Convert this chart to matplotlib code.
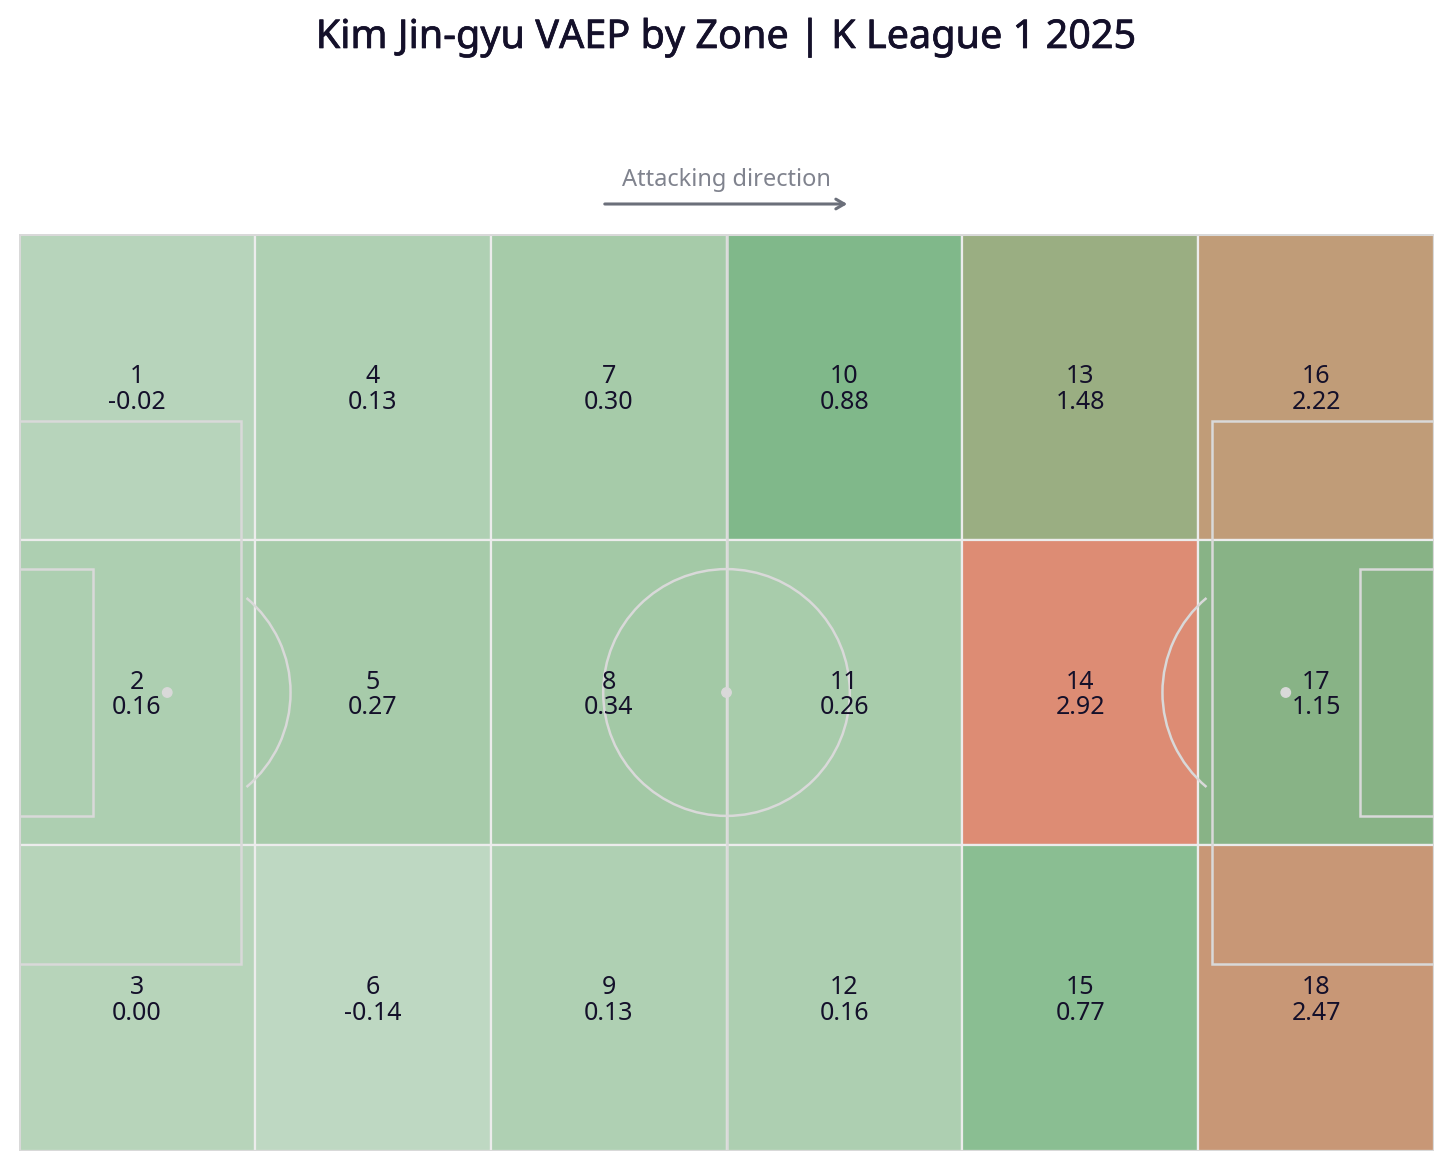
import matplotlib
matplotlib.use("Agg")
import matplotlib.pyplot as plt
import matplotlib.patheffects as pe
from matplotlib.patches import Rectangle, Circle, Arc, FancyArrowPatch
from matplotlib.colors import LinearSegmentedColormap, Normalize

plt.rcParams['font.family'] = ['Noto Sans', 'DejaVu Sans']

# ---- data ----
title = "Kim Jin-gyu VAEP by Zone | K League 1 2025"
zone_ids = list(range(1, 19))
zone_vaep = [-0.02, 0.16, 0.00,
             0.13, 0.27, -0.14,
             0.30, 0.34, 0.13,
             0.88, 0.26, 0.16,
             1.48, 2.92, 0.77,
             2.22, 1.15, 2.47]
n_cols, n_rows = 6, 3
pitch_length, pitch_width = 105.0, 68.0

# ---- style ----
cmap_nodes = [(0.00, "#bed8c2"), (0.157, "#a3c9a6"), (0.297, "#8abe92"),
              (0.333, "#80b88a"), (0.422, "#88b386"), (0.529, "#9aae82"),
              (0.771, "#c09c78"), (0.853, "#c89776"), (1.00, "#dd8c74")]
cmap = LinearSegmentedColormap.from_list("vaep", cmap_nodes)
norm = Normalize(vmin=min(zone_vaep), vmax=max(zone_vaep))
line_col = "#d9d9d9"
zone_edge = "#ececec"
text_col = "#14102a"

W, H = 1452, 1170
fig = plt.figure(figsize=(W / 100, H / 100), dpi=100)
ax = fig.add_axes([19 / W, 19 / H, 1415 / W, 917 / H])
ax.set_xlim(0, pitch_length)
ax.set_ylim(0, pitch_width)
ax.axis("off")

zw = pitch_length / n_cols
zh = pitch_width / n_rows
for zid, val in zip(zone_ids, zone_vaep):
    col = (zid - 1) // n_rows
    row = (zid - 1) % n_rows
    x0 = col * zw
    y0 = pitch_width - (row + 1) * zh
    ax.add_patch(Rectangle((x0, y0), zw, zh, facecolor=cmap(norm(val)),
                           edgecolor=zone_edge, lw=1.6, zorder=1))
    ax.text(x0 + zw / 2, y0 + zh / 2 - 0.18, f"{zid}\n{val:.2f}", ha="center", va="center",
            fontsize=18, color=text_col, linespacing=1.04, zorder=5)

# pitch markings
lw = 1.8
ax.add_patch(Rectangle((0, 0), pitch_length, pitch_width, fill=False, edgecolor=line_col, lw=2.2, zorder=3))
ax.plot([pitch_length / 2] * 2, [0, pitch_width], color=line_col, lw=lw, zorder=3)
ax.add_patch(Circle((pitch_length / 2, pitch_width / 2), 9.15, fill=False, edgecolor=line_col, lw=lw, zorder=3))
ax.add_patch(Circle((pitch_length / 2, pitch_width / 2), 0.35, color=line_col, zorder=3))
for side in (0, 1):
    if side == 0:
        spot = 11
        ax.add_patch(Rectangle((0, (pitch_width - 40.32) / 2), 16.5, 40.32, fill=False, edgecolor=line_col, lw=lw, zorder=3))
        ax.add_patch(Rectangle((0, (pitch_width - 18.32) / 2), 5.5, 18.32, fill=False, edgecolor=line_col, lw=lw, zorder=3))
        ax.add_patch(Arc((spot, pitch_width / 2), 18.3, 18.3, theta1=-50, theta2=50, edgecolor=line_col, lw=lw, zorder=3))
    else:
        spot = pitch_length - 11
        ax.add_patch(Rectangle((pitch_length - 16.5, (pitch_width - 40.32) / 2), 16.5, 40.32, fill=False, edgecolor=line_col, lw=lw, zorder=3))
        ax.add_patch(Rectangle((pitch_length - 5.5, (pitch_width - 18.32) / 2), 5.5, 18.32, fill=False, edgecolor=line_col, lw=lw, zorder=3))
        ax.add_patch(Arc((spot, pitch_width / 2), 18.3, 18.3, theta1=130, theta2=230, edgecolor=line_col, lw=lw, zorder=3))
    ax.add_patch(Circle((spot, pitch_width / 2), 0.35, color=line_col, zorder=3))

# title and direction
fig.text(0.5, 1 - 38 / H, title, ha="center", va="center", fontsize=28.5, color=text_col,
         path_effects=[pe.withStroke(linewidth=0.5, foreground=text_col)])
fig.text(726 / W, 1 - 180 / H, "Attacking direction", ha="center", va="center", fontsize=17,
         color="#80838e")
fig.patches.append(FancyArrowPatch(
    (602 / W, 1 - 204 / H), (850 / W, 1 - 204 / H), transform=fig.transFigure,
    arrowstyle="->,head_length=6,head_width=3.5", color="#6b6f7a", lw=2.2, mutation_scale=1))

fig.savefig("out.png", dpi=100, facecolor="white")
